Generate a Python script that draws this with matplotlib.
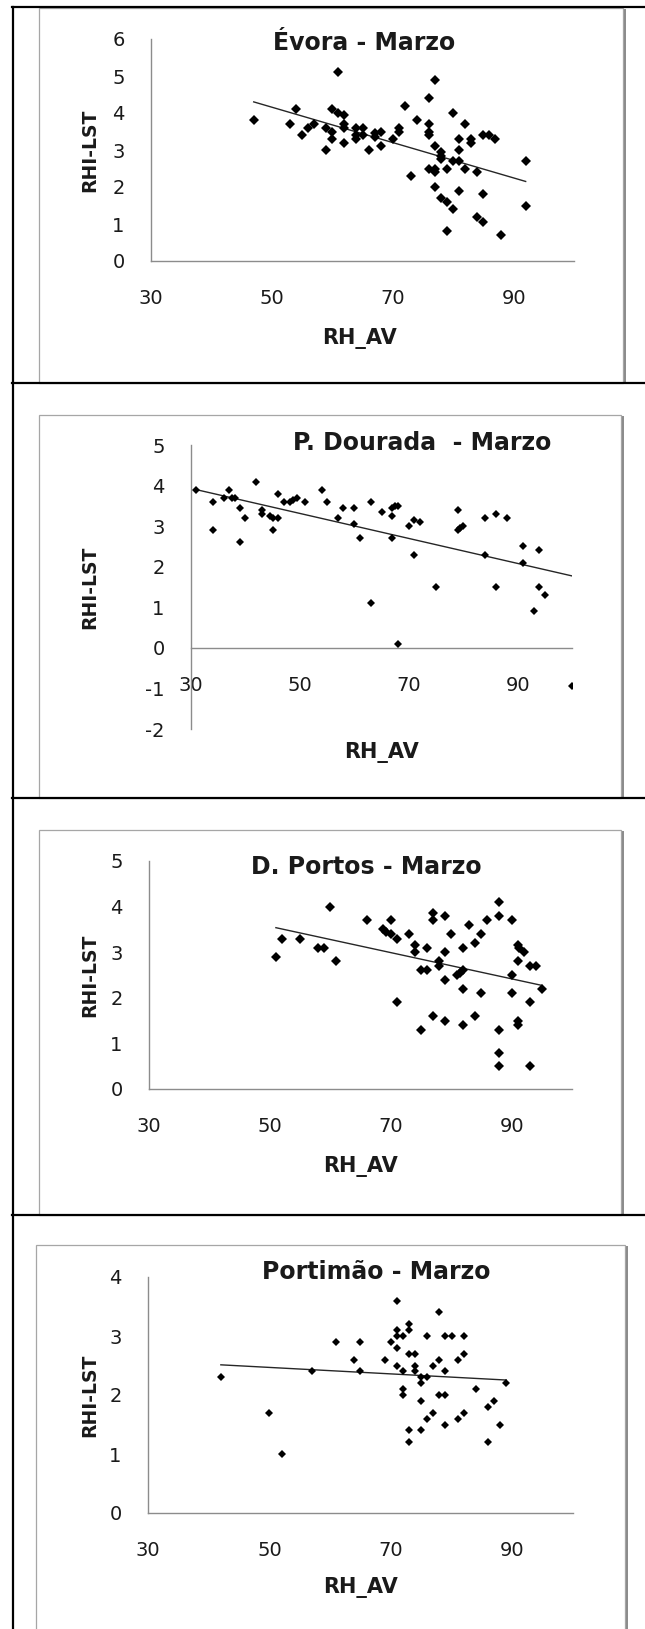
import numpy as np
import matplotlib
matplotlib.use('Agg')
import matplotlib.pyplot as plt
from matplotlib.lines import Line2D
from matplotlib.patches import Rectangle

plt.rcParams['axes.unicode_minus'] = False

# =============================================================================
# Data (RH_AV vs RHI-LST, March)
# =============================================================================

evora_x = [61, 77, 76, 72, 54, 60, 61, 62, 80, 47, 53, 57, 56, 55, 59, 60, 60, 59,
           62, 62, 62, 64, 65, 64, 64, 65, 66, 67, 68, 67, 68, 70, 71, 71, 74, 76,
           76, 76, 73, 77, 78, 78, 78, 79, 80, 81, 76, 77, 77, 82, 84, 81, 81, 82,
           83, 83, 85, 86, 87, 92, 92, 77, 78, 79, 80, 81, 85, 84, 85, 79, 88]
evora_y = [5.1, 4.9, 4.4, 4.2, 4.1, 4.1, 4.0, 3.95, 4.0, 3.8, 3.7, 3.7, 3.6, 3.4, 3.6,
           3.5, 3.3, 3.0, 3.7, 3.6, 3.2, 3.6, 3.6, 3.4, 3.3, 3.4, 3.0, 3.45, 3.5, 3.35,
           3.1, 3.3, 3.5, 3.6, 3.8, 3.7, 3.5, 3.4, 2.3, 3.1, 2.95, 2.85, 2.75, 2.5, 2.7,
           2.7, 2.5, 2.5, 2.4, 2.5, 2.4, 3.0, 3.3, 3.7, 3.3, 3.2, 3.4, 3.4, 3.3, 2.7,
           1.5, 2.0, 1.7, 1.6, 1.4, 1.9, 1.8, 1.2, 1.05, 0.8, 0.7]

dourada_x = [31, 34, 34, 36, 37, 37.5, 38, 39, 39, 40, 42, 43, 43, 44.5, 45, 46, 45,
             46, 47, 48.2, 48.8, 49.4, 51, 54, 55, 57, 58, 60, 60, 61, 63, 63, 65,
             67, 67.5, 68, 67, 67, 68, 70, 71, 72, 71, 75, 79, 79, 79.5, 80, 84, 84,
             86, 86, 88, 91, 91, 94, 94, 95, 93, 100]
dourada_y = [3.9, 3.6, 2.9, 3.7, 3.9, 3.7, 3.7, 3.45, 2.6, 3.2, 4.1, 3.4, 3.3, 3.25,
             3.2, 3.2, 2.9, 3.8, 3.6, 3.6, 3.65, 3.7, 3.6, 3.9, 3.6, 3.2, 3.45, 3.45,
             3.05, 2.7, 3.6, 1.1, 3.35, 3.45, 3.5, 3.5, 3.25, 2.7, 0.1, 3.0, 3.15, 3.1,
             2.3, 1.5, 3.4, 2.9, 2.95, 3.0, 3.2, 2.3, 3.3, 1.5, 3.2, 2.5, 2.1, 2.4,
             1.5, 1.3, 0.9, -0.95]

portos_x = [51, 52, 55, 58, 59, 60, 61, 66, 68.7, 69.3, 70, 71, 70, 73, 71, 74, 74,
            76, 75, 76, 75, 77, 77, 79, 77, 78, 78, 79, 79, 79, 80, 81, 81.5, 82, 82,
            82, 82, 83, 84, 84, 85, 85, 86, 88, 88, 88, 88, 88, 90, 90, 90, 91, 91.3,
            92, 91, 91, 91, 93, 94, 93, 93, 95]
portos_y = [2.9, 3.3, 3.3, 3.1, 3.1, 4.0, 2.8, 3.7, 3.5, 3.45, 3.4, 3.3, 3.7, 3.4,
            1.9, 3.15, 3.0, 3.1, 2.6, 2.6, 1.3, 3.85, 3.7, 3.8, 1.6, 2.8, 2.7, 3.0,
            2.4, 1.5, 3.4, 2.5, 2.55, 2.6, 3.1, 2.2, 1.4, 3.6, 3.2, 1.6, 3.4, 2.1,
            3.7, 4.1, 3.8, 1.3, 0.8, 0.5, 3.7, 2.5, 2.1, 3.15, 3.1, 3.0, 2.8, 1.5,
            1.4, 2.7, 2.7, 1.9, 0.5, 2.2]

portimao_x = [42, 50, 52, 57, 61, 65, 64, 65, 69, 70, 71, 71, 71, 72, 71, 71, 72, 73,
              73, 73, 74, 74, 74, 75, 76, 75, 72, 72, 75, 76, 77, 78, 78, 79, 80, 79,
              78, 79, 76, 77, 73, 75, 73, 79, 81, 82, 82, 81, 82, 84, 86, 87, 86, 88, 89]
portimao_y = [2.3, 1.7, 1.0, 2.4, 2.9, 2.9, 2.6, 2.4, 2.6, 2.9, 3.6, 3.1, 3.0, 3.0,
              2.8, 2.5, 2.4, 3.2, 3.1, 2.7, 2.7, 2.5, 2.4, 2.3, 2.3, 2.2, 2.1, 2.0,
              1.9, 3.0, 2.5, 3.4, 2.6, 3.0, 3.0, 2.4, 2.0, 2.0, 1.6, 1.7, 1.4, 1.4,
              1.2, 1.5, 2.6, 2.7, 3.0, 1.6, 1.7, 2.1, 1.8, 1.9, 1.2, 1.5, 2.2]

titles = ['Évora - Marzo', 'P. Dourada  - Marzo', 'D. Portos - Marzo', 'Portimão - Marzo']
x_ticks = [30, 50, 70, 90]

# =============================================================================
# Layout (pixels of the 645 x 1629 page)
# =============================================================================

W, H = 645, 1629

def fig_rect(x0, y0, x1, y1):
    return [x0 / W, 1 - y1 / H, (x1 - x0) / W, (y1 - y0) / H]

def fx(x):
    return x / W

def fy(y):
    return 1 - y / H

panels = [
    dict(x=evora_x, y=evora_y, ax=(151, 39, 574, 261), ylim=(0, 6), ms=5.0,
         box=(39, 8, 623, 383), title_pos=(0.504, 0.982),
         xlab=(0.494, -0.347), ylab=(-0.144, 0.5)),
    dict(x=dourada_x, y=dourada_y, ax=(191, 445, 572, 729), ylim=(-2, 5), ms=4.5,
         box=(39, 415, 621, 798), title_pos=(0.606, 1.007),
         xlab=(0.499, -0.081), ylab=(-0.265, 0.5)),
    dict(x=portos_x, y=portos_y, ax=(149, 861, 572, 1089), ylim=(0, 5), ms=4.6,
         box=(39, 830, 621, 1215), title_pos=(0.513, 0.974),
         xlab=(0.499, -0.342), ylab=(-0.139, 0.5)),
    dict(x=portimao_x, y=portimao_y, ax=(148, 1277, 573, 1513), ylim=(0, 4), ms=3.7,
         box=(36, 1245, 625, 1640), title_pos=(0.536, 1.021),
         xlab=(0.499, -0.314), ylab=(-0.136, 0.5)),
]

axis_grey = '#8c8c8c'
text_col = '#1a1a1a'

fig = plt.figure(figsize=(W / 100, H / 100), dpi=100)

for i, p in enumerate(panels):
    # chart frame with a small shadow on the right
    bx0, by0, bx1, by1 = p['box']
    fig.add_artist(Rectangle((fx(bx0), fy(by1)), fx(bx1 - bx0), (by1 - by0) / H,
                             transform=fig.transFigure, fill=False,
                             edgecolor='#a6a6a6', lw=0.9))
    fig.add_artist(Line2D([fx(bx1 + 1.5)] * 2, [fy(by1), fy(by0 + 2)],
                          transform=fig.transFigure, color='#8a8a8a', lw=1.4))

    ax = fig.add_axes(fig_rect(*p['ax']))
    ax.set_facecolor('none')
    xs = np.array(p['x'], dtype=float)
    ys = np.array(p['y'], dtype=float)
    ax.plot(xs, ys, linestyle='none', marker='D', ms=p['ms'], color='black',
            markeredgewidth=0, zorder=3)

    # linear trendline over the data range
    k, b = np.polyfit(xs, ys, 1)
    tx = np.array([xs.min(), xs.max()])
    ax.plot(tx, k * tx + b, color='#262626', lw=1.0, zorder=2)

    ax.set_xlim(30, 100)
    ax.set_ylim(*p['ylim'])
    ax.set_xticks(x_ticks)
    ax.set_yticks(range(p['ylim'][0], p['ylim'][1] + 1))
    for s in ['top', 'right']:
        ax.spines[s].set_visible(False)
    for s in ['left', 'bottom']:
        ax.spines[s].set_color(axis_grey)
        ax.spines[s].set_linewidth(1.0)
    ax.spines['bottom'].set_position(('data', 0))
    ax.tick_params(axis='x', length=0, pad=20, labelsize=14, labelcolor=text_col)
    ax.tick_params(axis='y', length=0, pad=19, labelsize=14, labelcolor=text_col)

    ax.text(p['title_pos'][0], p['title_pos'][1], titles[i], transform=ax.transAxes,
            ha='center', va='center', fontsize=17, fontweight='bold', color=text_col)
    ax.set_xlabel('RH_AV', fontsize=15, fontweight='bold', color=text_col)
    ax.xaxis.set_label_coords(*p['xlab'])
    ax.xaxis.label.set_va('center')
    ax.set_ylabel('RHI-LST', fontsize=13.5, fontweight='bold', color=text_col)
    ax.yaxis.set_label_coords(*p['ylab'])
    ax.yaxis.label.set_va('center')
    ax.yaxis.label.set_ha('center')

# table borders
for yb in [7, 383, 798, 1215]:
    fig.add_artist(Line2D([fx(12), fx(645)], [fy(yb)] * 2, transform=fig.transFigure,
                          color='black', lw=1.6))
fig.add_artist(Line2D([fx(13)] * 2, [fy(7), fy(1629)], transform=fig.transFigure,
                      color='black', lw=1.6))

fig.savefig('out.png', dpi=100)
